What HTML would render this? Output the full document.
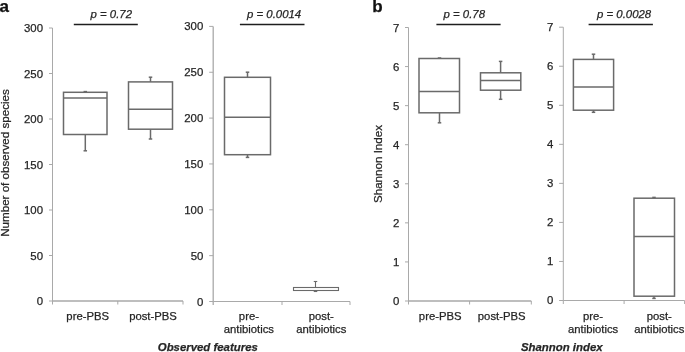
<!DOCTYPE html>
<html><head><meta charset="utf-8"><style>
html,body{margin:0;padding:0;background:#fff;}
body{width:685px;height:352px;overflow:hidden;}
svg{display:block;filter:grayscale(1);font-family:"Liberation Sans",sans-serif;}
</style></head><body>
<svg width="685" height="352" viewBox="0 0 685 352">
<line x1="52.5" y1="28" x2="52.5" y2="304.5" stroke="#a9a9ab" stroke-width="1"/>
<line x1="49.0" y1="28.0" x2="52.5" y2="28.0" stroke="#a9a9ab" stroke-width="1"/>
<text x="43" y="32.0" text-anchor="end" font-size="11.4" fill="#262626" stroke="#262626" stroke-width="0.25">300</text>
<line x1="49.0" y1="73.5" x2="52.5" y2="73.5" stroke="#a9a9ab" stroke-width="1"/>
<text x="43" y="77.5" text-anchor="end" font-size="11.4" fill="#262626" stroke="#262626" stroke-width="0.25">250</text>
<line x1="49.0" y1="119.0" x2="52.5" y2="119.0" stroke="#a9a9ab" stroke-width="1"/>
<text x="43" y="123.0" text-anchor="end" font-size="11.4" fill="#262626" stroke="#262626" stroke-width="0.25">200</text>
<line x1="49.0" y1="164.5" x2="52.5" y2="164.5" stroke="#a9a9ab" stroke-width="1"/>
<text x="43" y="168.5" text-anchor="end" font-size="11.4" fill="#262626" stroke="#262626" stroke-width="0.25">150</text>
<line x1="49.0" y1="210.0" x2="52.5" y2="210.0" stroke="#a9a9ab" stroke-width="1"/>
<text x="43" y="214.0" text-anchor="end" font-size="11.4" fill="#262626" stroke="#262626" stroke-width="0.25">100</text>
<line x1="49.0" y1="255.5" x2="52.5" y2="255.5" stroke="#a9a9ab" stroke-width="1"/>
<text x="43" y="259.5" text-anchor="end" font-size="11.4" fill="#262626" stroke="#262626" stroke-width="0.25">50</text>
<line x1="49.0" y1="301.0" x2="52.5" y2="301.0" stroke="#a9a9ab" stroke-width="1"/>
<text x="43" y="305.0" text-anchor="end" font-size="11.4" fill="#262626" stroke="#262626" stroke-width="0.25">0</text>
<line x1="52.5" y1="301" x2="183" y2="301" stroke="#a9a9ab" stroke-width="1.5"/>
<line x1="117.8" y1="301" x2="117.8" y2="304.5" stroke="#a9a9ab" stroke-width="1"/>
<line x1="183" y1="301" x2="183" y2="304.5" stroke="#a9a9ab" stroke-width="1"/>
<line x1="85.3" y1="91.6" x2="85.3" y2="92.3" stroke="#6a6a6a" stroke-width="1.5"/>
<line x1="85.3" y1="134.5" x2="85.3" y2="150.8" stroke="#6a6a6a" stroke-width="1.5"/>
<line x1="83.55" y1="91.6" x2="87.05" y2="91.6" stroke="#6a6a6a" stroke-width="1.5"/>
<line x1="83.55" y1="150.8" x2="87.05" y2="150.8" stroke="#6a6a6a" stroke-width="1.5"/>
<rect x="63.5" y="92.3" width="43.5" height="42.2" fill="none" stroke="#6a6a6a" stroke-width="1.5"/>
<line x1="63.5" y1="98" x2="107" y2="98" stroke="#6a6a6a" stroke-width="1.5"/>
<line x1="150.5" y1="77.2" x2="150.5" y2="81.9" stroke="#6a6a6a" stroke-width="1.5"/>
<line x1="150.5" y1="129.2" x2="150.5" y2="139" stroke="#6a6a6a" stroke-width="1.5"/>
<line x1="148.75" y1="77.2" x2="152.25" y2="77.2" stroke="#6a6a6a" stroke-width="1.5"/>
<line x1="148.75" y1="139" x2="152.25" y2="139" stroke="#6a6a6a" stroke-width="1.5"/>
<rect x="128.5" y="81.9" width="44.0" height="47.29999999999998" fill="none" stroke="#6a6a6a" stroke-width="1.5"/>
<line x1="128.5" y1="109.2" x2="172.5" y2="109.2" stroke="#6a6a6a" stroke-width="1.5"/>
<line x1="73.8" y1="24.5" x2="137.8" y2="24.5" stroke="#1e1e1e" stroke-width="1.4"/>
<text x="90.5" y="17.8" text-anchor="start" font-size="11.4" font-style="italic" fill="#262626" stroke="#262626" stroke-width="0.25">p = 0.72</text>
<line x1="213.2" y1="26.4" x2="213.2" y2="305.0" stroke="#a9a9ab" stroke-width="1.3"/>
<line x1="209.2" y1="26.4" x2="213.2" y2="26.4" stroke="#a9a9ab" stroke-width="1"/>
<text x="203.3" y="30.4" text-anchor="end" font-size="11.4" fill="#262626" stroke="#262626" stroke-width="0.25">300</text>
<line x1="209.2" y1="72.25" x2="213.2" y2="72.25" stroke="#a9a9ab" stroke-width="1"/>
<text x="203.3" y="76.25" text-anchor="end" font-size="11.4" fill="#262626" stroke="#262626" stroke-width="0.25">250</text>
<line x1="209.2" y1="118.1" x2="213.2" y2="118.1" stroke="#a9a9ab" stroke-width="1"/>
<text x="203.3" y="122.1" text-anchor="end" font-size="11.4" fill="#262626" stroke="#262626" stroke-width="0.25">200</text>
<line x1="209.2" y1="163.95000000000002" x2="213.2" y2="163.95000000000002" stroke="#a9a9ab" stroke-width="1"/>
<text x="203.3" y="167.95000000000002" text-anchor="end" font-size="11.4" fill="#262626" stroke="#262626" stroke-width="0.25">150</text>
<line x1="209.2" y1="209.8" x2="213.2" y2="209.8" stroke="#a9a9ab" stroke-width="1"/>
<text x="203.3" y="213.8" text-anchor="end" font-size="11.4" fill="#262626" stroke="#262626" stroke-width="0.25">100</text>
<line x1="209.2" y1="255.65" x2="213.2" y2="255.65" stroke="#a9a9ab" stroke-width="1"/>
<text x="203.3" y="259.65" text-anchor="end" font-size="11.4" fill="#262626" stroke="#262626" stroke-width="0.25">50</text>
<line x1="209.2" y1="301.5" x2="213.2" y2="301.5" stroke="#a9a9ab" stroke-width="1"/>
<text x="203.3" y="305.5" text-anchor="end" font-size="11.4" fill="#262626" stroke="#262626" stroke-width="0.25">0</text>
<line x1="213.2" y1="301.5" x2="350" y2="301.5" stroke="#a9a9ab" stroke-width="1"/>
<line x1="282" y1="301.5" x2="282" y2="305.0" stroke="#a9a9ab" stroke-width="1"/>
<line x1="350" y1="301.5" x2="350" y2="305.0" stroke="#a9a9ab" stroke-width="1"/>
<line x1="247.5" y1="72.2" x2="247.5" y2="77.3" stroke="#6a6a6a" stroke-width="1.5"/>
<line x1="247.5" y1="154.7" x2="247.5" y2="157.4" stroke="#6a6a6a" stroke-width="1.5"/>
<line x1="245.75" y1="72.2" x2="249.25" y2="72.2" stroke="#6a6a6a" stroke-width="1.5"/>
<line x1="245.75" y1="157.4" x2="249.25" y2="157.4" stroke="#6a6a6a" stroke-width="1.5"/>
<rect x="224.5" y="77.3" width="46.0" height="77.39999999999999" fill="none" stroke="#6a6a6a" stroke-width="1.5"/>
<line x1="224.5" y1="117.2" x2="270.5" y2="117.2" stroke="#6a6a6a" stroke-width="1.5"/>
<line x1="315.5" y1="281.5" x2="315.5" y2="287.5" stroke="#6a6a6a" stroke-width="1.1"/>
<line x1="315.5" y1="290.5" x2="315.5" y2="291.5" stroke="#6a6a6a" stroke-width="1.1"/>
<line x1="313.75" y1="281.5" x2="317.25" y2="281.5" stroke="#6a6a6a" stroke-width="1.1"/>
<line x1="313.75" y1="291.5" x2="317.25" y2="291.5" stroke="#6a6a6a" stroke-width="1.1"/>
<rect x="293.5" y="287.5" width="45.0" height="3.0" fill="none" stroke="#6a6a6a" stroke-width="1.1"/>
<line x1="293.5" y1="287.5" x2="338.5" y2="287.5" stroke="#6a6a6a" stroke-width="1.1"/>
<line x1="239.9" y1="24.5" x2="304.5" y2="24.5" stroke="#1e1e1e" stroke-width="1.4"/>
<text x="247" y="18.2" text-anchor="start" font-size="11.4" font-style="italic" fill="#262626" stroke="#262626" stroke-width="0.25">p = 0.0014</text>
<line x1="408.5" y1="27.5" x2="408.5" y2="304.5" stroke="#a9a9ab" stroke-width="1"/>
<line x1="405.0" y1="27.5" x2="408.5" y2="27.5" stroke="#a9a9ab" stroke-width="1"/>
<text x="399.3" y="31.5" text-anchor="end" font-size="11.4" fill="#262626" stroke="#262626" stroke-width="0.25">7</text>
<line x1="405.0" y1="66.57142857142857" x2="408.5" y2="66.57142857142857" stroke="#a9a9ab" stroke-width="1"/>
<text x="399.3" y="70.57142857142857" text-anchor="end" font-size="11.4" fill="#262626" stroke="#262626" stroke-width="0.25">6</text>
<line x1="405.0" y1="105.64285714285714" x2="408.5" y2="105.64285714285714" stroke="#a9a9ab" stroke-width="1"/>
<text x="399.3" y="109.64285714285714" text-anchor="end" font-size="11.4" fill="#262626" stroke="#262626" stroke-width="0.25">5</text>
<line x1="405.0" y1="144.71428571428572" x2="408.5" y2="144.71428571428572" stroke="#a9a9ab" stroke-width="1"/>
<text x="399.3" y="148.71428571428572" text-anchor="end" font-size="11.4" fill="#262626" stroke="#262626" stroke-width="0.25">4</text>
<line x1="405.0" y1="183.78571428571428" x2="408.5" y2="183.78571428571428" stroke="#a9a9ab" stroke-width="1"/>
<text x="399.3" y="187.78571428571428" text-anchor="end" font-size="11.4" fill="#262626" stroke="#262626" stroke-width="0.25">3</text>
<line x1="405.0" y1="222.85714285714283" x2="408.5" y2="222.85714285714283" stroke="#a9a9ab" stroke-width="1"/>
<text x="399.3" y="226.85714285714283" text-anchor="end" font-size="11.4" fill="#262626" stroke="#262626" stroke-width="0.25">2</text>
<line x1="405.0" y1="261.92857142857144" x2="408.5" y2="261.92857142857144" stroke="#a9a9ab" stroke-width="1"/>
<text x="399.3" y="265.92857142857144" text-anchor="end" font-size="11.4" fill="#262626" stroke="#262626" stroke-width="0.25">1</text>
<line x1="405.0" y1="301.0" x2="408.5" y2="301.0" stroke="#a9a9ab" stroke-width="1"/>
<text x="399.3" y="305.0" text-anchor="end" font-size="11.4" fill="#262626" stroke="#262626" stroke-width="0.25">0</text>
<line x1="408.5" y1="301" x2="531.3" y2="301" stroke="#a9a9ab" stroke-width="1.5"/>
<line x1="469.6" y1="301" x2="469.6" y2="304.5" stroke="#a9a9ab" stroke-width="1"/>
<line x1="531.3" y1="301" x2="531.3" y2="304.5" stroke="#a9a9ab" stroke-width="1"/>
<line x1="439.5" y1="58" x2="439.5" y2="58.5" stroke="#6a6a6a" stroke-width="1.5"/>
<line x1="439.5" y1="112.8" x2="439.5" y2="122.8" stroke="#6a6a6a" stroke-width="1.5"/>
<line x1="437.75" y1="58" x2="441.25" y2="58" stroke="#6a6a6a" stroke-width="1.5"/>
<line x1="437.75" y1="122.8" x2="441.25" y2="122.8" stroke="#6a6a6a" stroke-width="1.5"/>
<rect x="419" y="58.5" width="40.5" height="54.3" fill="none" stroke="#6a6a6a" stroke-width="1.5"/>
<line x1="419" y1="91.4" x2="459.5" y2="91.4" stroke="#6a6a6a" stroke-width="1.5"/>
<line x1="500.6" y1="61.4" x2="500.6" y2="72.8" stroke="#6a6a6a" stroke-width="1.5"/>
<line x1="500.6" y1="90.2" x2="500.6" y2="99.3" stroke="#6a6a6a" stroke-width="1.5"/>
<line x1="498.85" y1="61.4" x2="502.35" y2="61.4" stroke="#6a6a6a" stroke-width="1.5"/>
<line x1="498.85" y1="99.3" x2="502.35" y2="99.3" stroke="#6a6a6a" stroke-width="1.5"/>
<rect x="480.5" y="72.8" width="40.299999999999955" height="17.400000000000006" fill="none" stroke="#6a6a6a" stroke-width="1.5"/>
<line x1="480.5" y1="80.4" x2="520.8" y2="80.4" stroke="#6a6a6a" stroke-width="1.5"/>
<line x1="436.4" y1="24.5" x2="500.6" y2="24.5" stroke="#1e1e1e" stroke-width="1.4"/>
<text x="443.5" y="17.6" text-anchor="start" font-size="11.4" font-style="italic" fill="#262626" stroke="#262626" stroke-width="0.25">p = 0.78</text>
<line x1="563.3" y1="27.2" x2="563.3" y2="304.0" stroke="#a9a9ab" stroke-width="1"/>
<line x1="559.0999999999999" y1="27.2" x2="563.3" y2="27.2" stroke="#a9a9ab" stroke-width="1"/>
<text x="553.3" y="30.599999999999998" text-anchor="end" font-size="11.4" fill="#262626" stroke="#262626" stroke-width="0.25">7</text>
<line x1="559.0999999999999" y1="66.24285714285715" x2="563.3" y2="66.24285714285715" stroke="#a9a9ab" stroke-width="1"/>
<text x="553.3" y="69.64285714285715" text-anchor="end" font-size="11.4" fill="#262626" stroke="#262626" stroke-width="0.25">6</text>
<line x1="559.0999999999999" y1="105.28571428571429" x2="563.3" y2="105.28571428571429" stroke="#a9a9ab" stroke-width="1"/>
<text x="553.3" y="108.6857142857143" text-anchor="end" font-size="11.4" fill="#262626" stroke="#262626" stroke-width="0.25">5</text>
<line x1="559.0999999999999" y1="144.32857142857142" x2="563.3" y2="144.32857142857142" stroke="#a9a9ab" stroke-width="1"/>
<text x="553.3" y="147.72857142857143" text-anchor="end" font-size="11.4" fill="#262626" stroke="#262626" stroke-width="0.25">4</text>
<line x1="559.0999999999999" y1="183.37142857142857" x2="563.3" y2="183.37142857142857" stroke="#a9a9ab" stroke-width="1"/>
<text x="553.3" y="186.77142857142857" text-anchor="end" font-size="11.4" fill="#262626" stroke="#262626" stroke-width="0.25">3</text>
<line x1="559.0999999999999" y1="222.4142857142857" x2="563.3" y2="222.4142857142857" stroke="#a9a9ab" stroke-width="1"/>
<text x="553.3" y="225.81428571428572" text-anchor="end" font-size="11.4" fill="#262626" stroke="#262626" stroke-width="0.25">2</text>
<line x1="559.0999999999999" y1="261.45714285714286" x2="563.3" y2="261.45714285714286" stroke="#a9a9ab" stroke-width="1"/>
<text x="553.3" y="264.85714285714283" text-anchor="end" font-size="11.4" fill="#262626" stroke="#262626" stroke-width="0.25">1</text>
<line x1="559.0999999999999" y1="300.5" x2="563.3" y2="300.5" stroke="#a9a9ab" stroke-width="1"/>
<text x="553.3" y="303.9" text-anchor="end" font-size="11.4" fill="#262626" stroke="#262626" stroke-width="0.25">0</text>
<line x1="563.3" y1="300.5" x2="684.6" y2="300.5" stroke="#a9a9ab" stroke-width="1"/>
<line x1="624.1" y1="300.5" x2="624.1" y2="304.0" stroke="#a9a9ab" stroke-width="1"/>
<line x1="684.6" y1="300.5" x2="684.6" y2="304.0" stroke="#a9a9ab" stroke-width="1"/>
<line x1="593.5" y1="54.2" x2="593.5" y2="59.4" stroke="#6a6a6a" stroke-width="1.5"/>
<line x1="593.5" y1="110.2" x2="593.5" y2="112.3" stroke="#6a6a6a" stroke-width="1.5"/>
<line x1="591.75" y1="54.2" x2="595.25" y2="54.2" stroke="#6a6a6a" stroke-width="1.5"/>
<line x1="591.75" y1="112.3" x2="595.25" y2="112.3" stroke="#6a6a6a" stroke-width="1.5"/>
<rect x="573.4" y="59.4" width="40.200000000000045" height="50.800000000000004" fill="none" stroke="#6a6a6a" stroke-width="1.5"/>
<line x1="573.4" y1="87" x2="613.6" y2="87" stroke="#6a6a6a" stroke-width="1.5"/>
<line x1="654" y1="197.4" x2="654" y2="198.2" stroke="#6a6a6a" stroke-width="1.5"/>
<line x1="654" y1="296.2" x2="654" y2="298.4" stroke="#6a6a6a" stroke-width="1.5"/>
<line x1="652.25" y1="197.4" x2="655.75" y2="197.4" stroke="#6a6a6a" stroke-width="1.5"/>
<line x1="652.25" y1="298.4" x2="655.75" y2="298.4" stroke="#6a6a6a" stroke-width="1.5"/>
<rect x="634" y="198.2" width="40.5" height="98.0" fill="none" stroke="#6a6a6a" stroke-width="1.5"/>
<line x1="634" y1="236.4" x2="674.5" y2="236.4" stroke="#6a6a6a" stroke-width="1.5"/>
<line x1="588.6" y1="24.5" x2="652.9" y2="24.5" stroke="#1e1e1e" stroke-width="1.4"/>
<text x="597" y="17.6" text-anchor="start" font-size="11.4" font-style="italic" fill="#262626" stroke="#262626" stroke-width="0.25">p = 0.0028</text>
<text x="87.7" y="319.6" text-anchor="middle" font-size="11.3" fill="#262626" stroke="#262626" stroke-width="0.25">pre-PBS</text>
<text x="153" y="319.6" text-anchor="middle" font-size="11.3" fill="#262626" stroke="#262626" stroke-width="0.25">post-PBS</text>
<text x="248.9" y="319.6" text-anchor="middle" font-size="11.3" fill="#262626" stroke="#262626" stroke-width="0.25">pre-</text>
<text x="248.9" y="332.6" text-anchor="middle" font-size="11.3" fill="#262626" stroke="#262626" stroke-width="0.25">antibiotics</text>
<text x="321.3" y="319.6" text-anchor="middle" font-size="11.3" fill="#262626" stroke="#262626" stroke-width="0.25">post-</text>
<text x="321.3" y="332.6" text-anchor="middle" font-size="11.3" fill="#262626" stroke="#262626" stroke-width="0.25">antibiotics</text>
<text x="440.2" y="319.6" text-anchor="middle" font-size="11.3" fill="#262626" stroke="#262626" stroke-width="0.25">pre-PBS</text>
<text x="501.7" y="319.6" text-anchor="middle" font-size="11.3" fill="#262626" stroke="#262626" stroke-width="0.25">post-PBS</text>
<text x="593.1" y="319.6" text-anchor="middle" font-size="11.3" fill="#262626" stroke="#262626" stroke-width="0.25">pre-</text>
<text x="593.1" y="332.6" text-anchor="middle" font-size="11.3" fill="#262626" stroke="#262626" stroke-width="0.25">antibiotics</text>
<text x="659.3" y="319.6" text-anchor="middle" font-size="11.3" fill="#262626" stroke="#262626" stroke-width="0.25">post-</text>
<text x="659.3" y="332.6" text-anchor="middle" font-size="11.3" fill="#262626" stroke="#262626" stroke-width="0.25">antibiotics</text>
<text x="207.8" y="351" text-anchor="middle" font-size="11.4" font-style="italic" font-weight="bold" fill="#262626" stroke="#262626" stroke-width="0.25">Observed features</text>
<text x="561.8" y="351" text-anchor="middle" font-size="11.4" font-style="italic" font-weight="bold" fill="#262626" stroke="#262626" stroke-width="0.25">Shannon index</text>
<text x="9.1" y="163" text-anchor="middle" font-size="11.6" fill="#262626" stroke="#262626" stroke-width="0.25" transform="rotate(-90 9.1 163)">Number of observed species</text>
<text x="382.2" y="164" text-anchor="middle" font-size="11.6" fill="#262626" stroke="#262626" stroke-width="0.25" transform="rotate(-90 382.2 164)">Shannon Index</text>
<text x="-0.5" y="11.9" text-anchor="start" font-size="17" font-weight="bold" fill="#111" stroke="#111" stroke-width="0.25">a</text>
<text x="372.2" y="11.9" text-anchor="start" font-size="17" font-weight="bold" fill="#111" stroke="#111" stroke-width="0.25">b</text>
</svg>
</body></html>
